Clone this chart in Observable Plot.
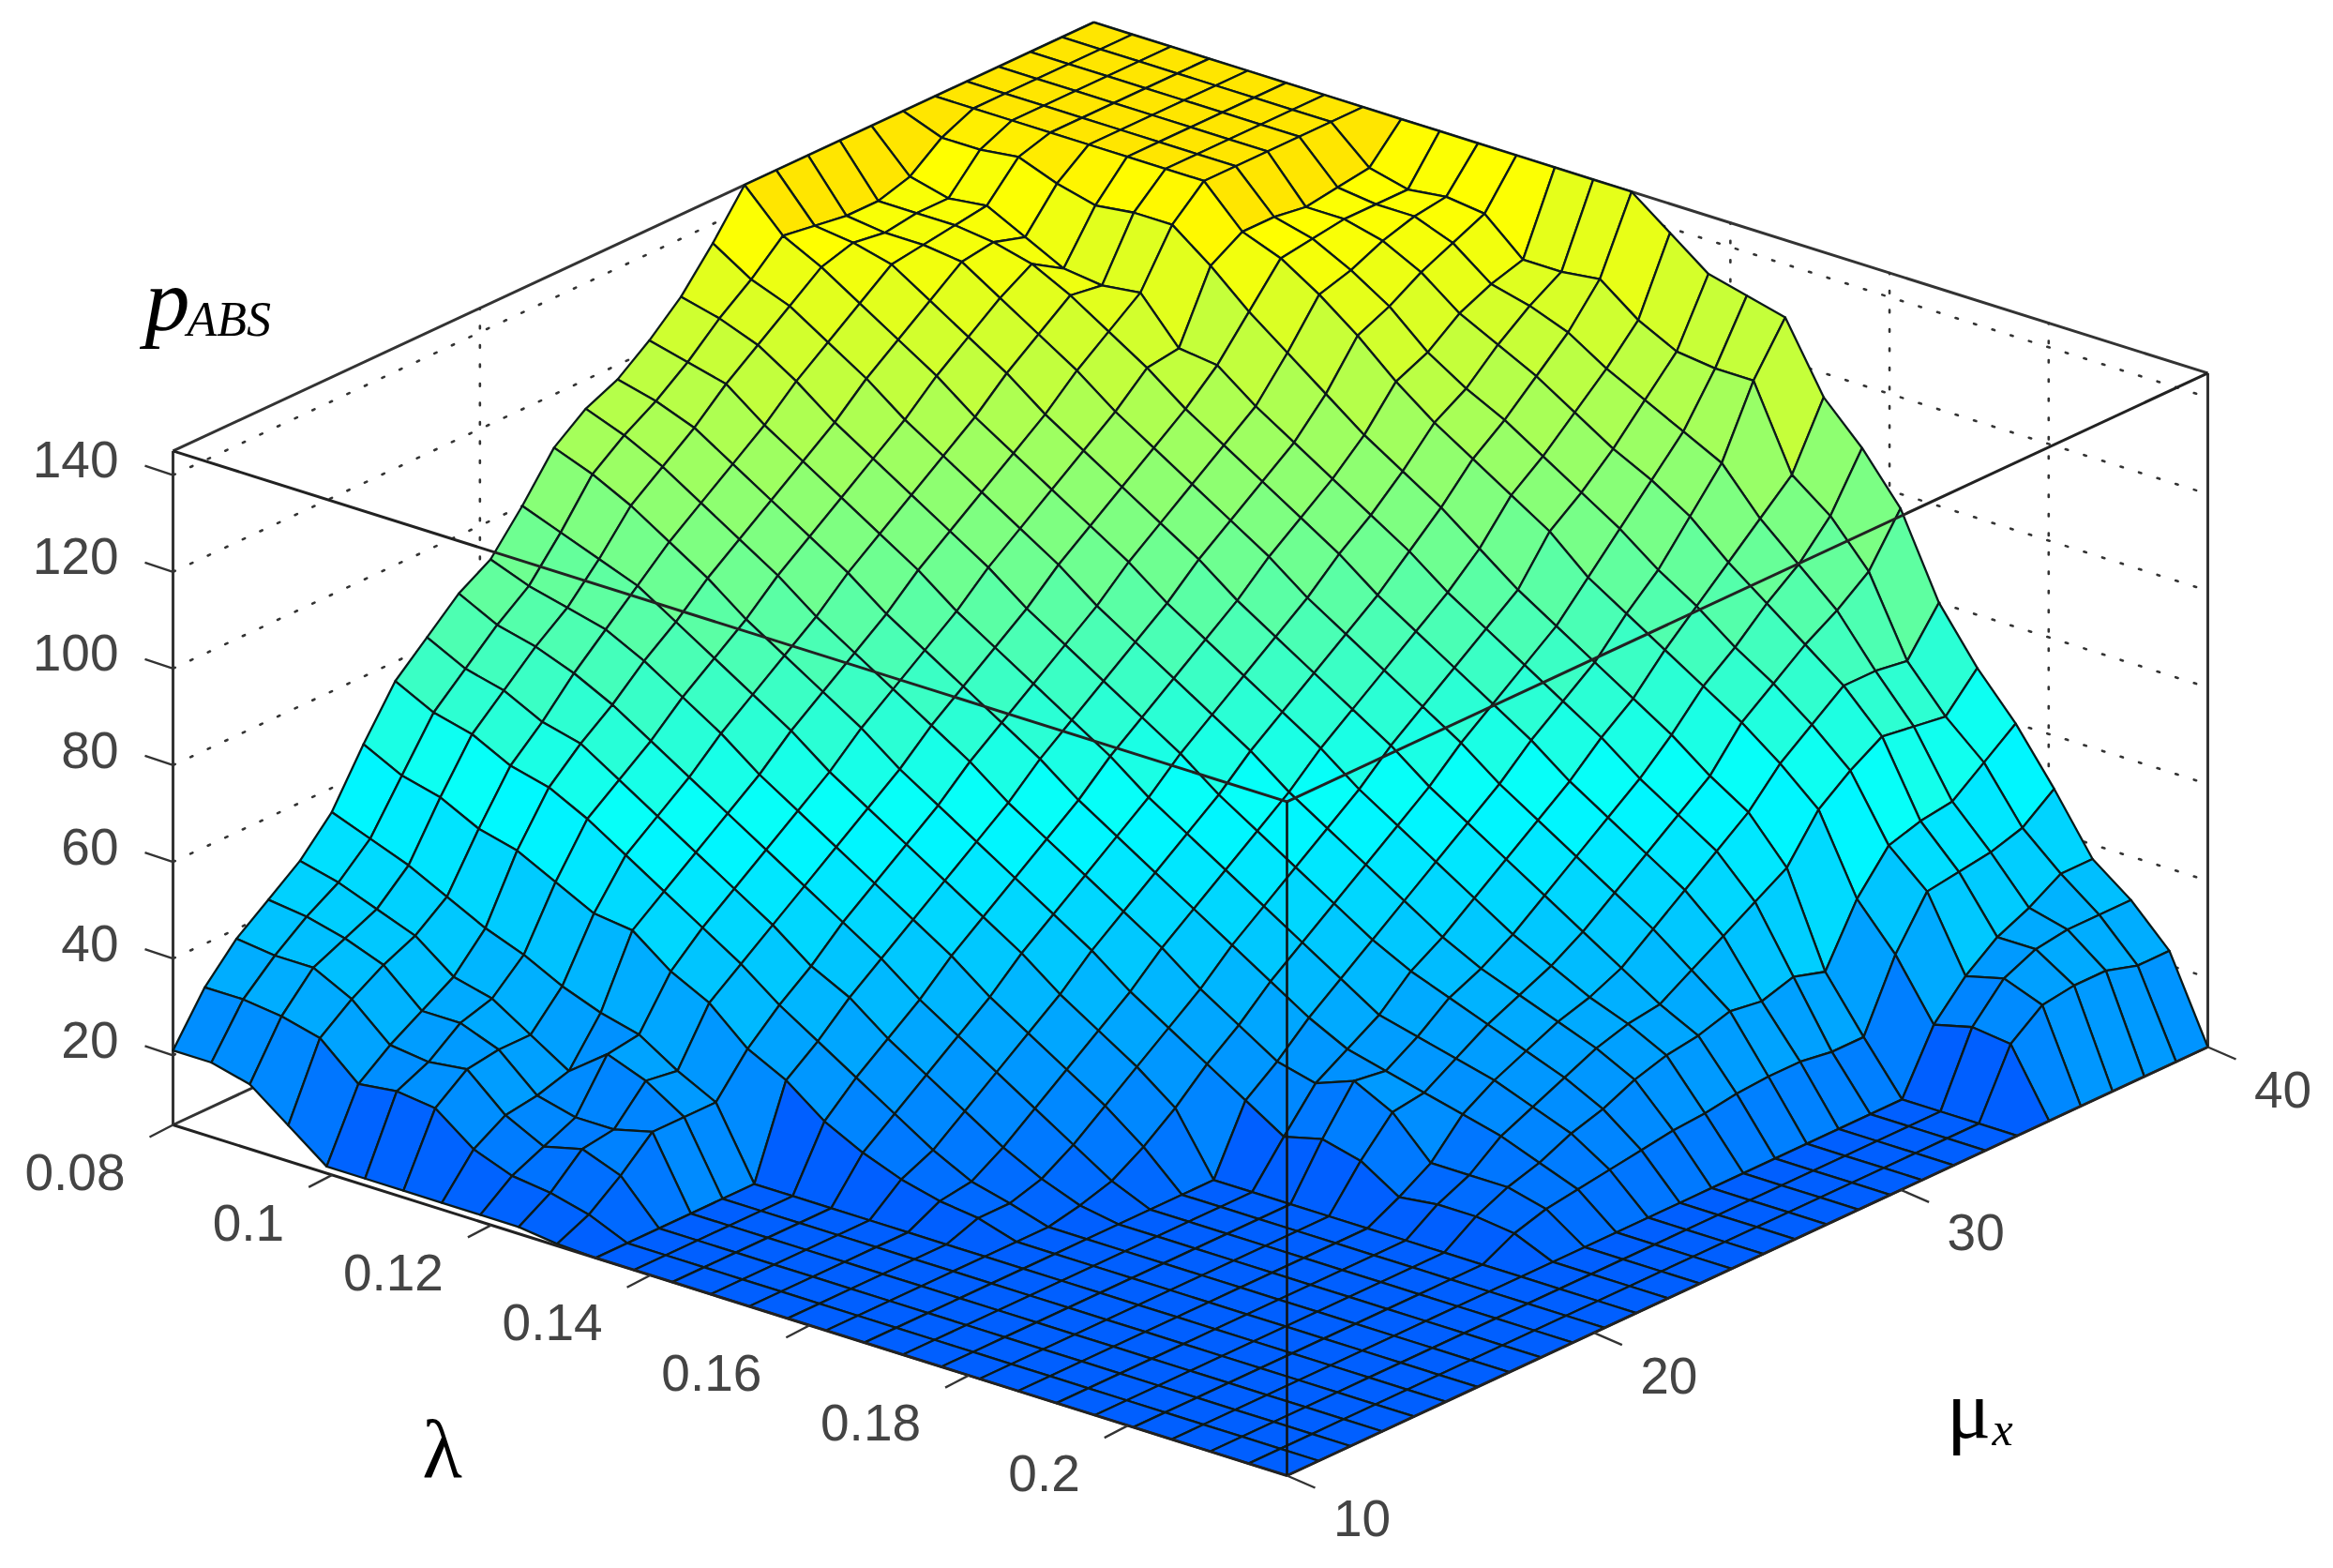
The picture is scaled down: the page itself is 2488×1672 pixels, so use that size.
<!DOCTYPE html>
<html><head><meta charset="utf-8">
<style>html,body{margin:0;padding:0;background:#fff}svg{display:block}</style>
<script src="https://cdn.jsdelivr.net/npm/d3@7"></script>
<script src="https://cdn.jsdelivr.net/npm/@observablehq/plot@0.6"></script>
</head><body><div id="chart"></div>
<script>
const f = 5.6;
const T = 145;
const zTicks = [20,40,60,80,100,120,140];
const lambdaTicks = [0.08,0.1,0.12,0.14,0.16,0.18,0.2];
const muTicks = [10,20,30,40];
const row0 = [21,21,19,13,7,7,7,7,7,7,6,f,f,f,f,f,f,f,f,f,f,f,f,f,f,f,f,f,f,f];
const row1 = [31,31,30,28,21,22,21,15,12,11,9,f,f,f,f,f,f,f,f,f,f,f,f,f,f,f,f,f,f,f];
const row2 = [38,37,37,33,26,25,26,19,15,17,14,f,f,f,f,f,f,f,f,f,f,f,f,f,f,f,f,f,f,f];
const row3 = [43,42,40,37,30,30,27,20,18,18,20,f,f,f,f,f,f,f,f,f,f,f,f,f,f,f,f,f,f,f];
const row4 = [48,46,43,40,34,32,27,22,28,25,20,f,f,f,f,f,f,f,f,f,f,f,f,f,f,f,f,f,f,f];
const row5 = [55,52,49,45,41,38,34,31,29,24,20,f,f,f,f,f,f,f,f,f,f,f,f,f,f,f,f,f,f,f];
const row6 = [66,62,60,56,54,50,46,45,39,35,28,24,18,14,11,9,8,f,f,f,f,f,f,f,f,f,f,f,f,f];
const row7 = [76,72,70,66,64,60,55,50,45,40,34,29,24,19,14,10,8,f,f,f,f,f,f,f,f,f,f,f,f,f];
const row8 = [82,78,76,72,70,65,60,55,50,45,39,35,29,24,19,14,10,7,f,f,f,f,f,f,f,f,f,f,f,f];
const row9 = [88,84,82,79,75,70,65,60,55,50,45,40,34,29,24,19,14,9,f,f,f,f,f,f,f,f,f,f,f,f];
const row10 = [92,89,87,85,81,76,71,65,60,55,50,45,40,34,29,24,19,13,f,f,f,f,f,f,f,f,f,f,f,f];
const row11 = [100,97,94,91,86,81,76,71,65,60,55,50,45,40,34,29,24,18,f,f,f,f,f,f,f,f,f,f,f,f];
const row12 = [109,106,102,97,92,86,81,76,71,65,60,55,50,45,40,34,29,24,19,14,16,14,9,10,10,9,f,f,f,f];
const row13 = [114,111,107,102,97,92,86,81,76,71,66,60,55,50,45,40,34,29,24,22,25,21,13,13,13,11,f,f,f,f];
const row14 = [117,115,112,107,102,97,92,86,81,76,71,66,60,55,50,45,40,35,30,26,24,22,20,18,15,12,f,f,f,f];
const row15 = [122,120,118,112,107,102,97,92,86,81,76,71,66,60,55,50,45,40,35,30,28,26,24,21,18,13,f,f,f,f];
const row16 = [128,126,123,118,112,107,102,97,92,86,81,76,71,66,60,55,50,45,40,36,33,30,27,24,20,14,f,f,f,f];
const row17 = [136,131,128,123,118,112,107,102,97,92,86,81,76,71,66,60,55,50,45,40,36,33,30,27,23,15,f,f,f,f];
const row18 = [T,137,133,128,123,118,112,107,102,97,92,86,81,76,71,66,60,55,50,45,40,36,32,29,25,15.5,f,f,f,f];
const row19 = [T,136,135,133,128,123,118,112,107,102,97,92,86,81,76,71,66,60,55,50,45,40,35,30,26,16.5,f,f,f,f];
const row20 = [T,135,134,134,133,128,123,118,112,107,102,97,92,86,81,76,71,66,60,55,50,45,40,34,28,17,f,f,f,f];
const row21 = [T,135,135,135,134,132,128,123,118,112,107,102,97,92,86,81,76,71,66,60,55,50,45,38,27,17,f,f,f,f];
const row22 = [T,137,135,136,132,128,127,128,119,118,112,107,102,97,92,86,81,76,71,66,60,55,50,42,29,16,f,f,f,f];
const row23 = [T,142,142,143,140,138,139,139,133,126,120,114,108,103,98,92,86,81,76,71,66,60,55,46,27,16,f,f,f,f];
const row24 = [T,T,T,T,T,T,T,T,137,134,129,123,116,110,105,100,95,88,83,78,73,68,62,55,39,30,18,20,19,f];
const row25 = [T,T,T,T,T,T,T,T,137,135,131,126,119,114,110,105,100,95,89,84,78,73,67,60,47,40,25,27,24,f];
const row26 = [T,T,T,T,T,T,T,T,136,136,134,130,124,120,116,111,106,102,97,90,84,78,72,64,49,41,30,30,25,f];
const row27 = [T,T,T,T,T,T,T,T,137,136,136,133,127,125,122,117,113,109,105,96,89,82,72,63,50,42,33,31,25,f];
const row28 = [T,T,T,T,T,T,T,T,138,136,137,136,129,129,130,124,120,119,119,102,96,87,71,62,55,44,37,31,23,f];
const row29 = [T,T,T,T,T,T,T,T,T,T,T,T,T,T,T,139,133,131,129,115,107,97,80,69,60,49,37,31,23,f];
const surfaceRows = [row0,row1,row2,row3,row4,row5,row6,row7,row8,row9,row10,row11,row12,row13,row14,row15,row16,row17,row18,row19,row20,row21,row22,row23,row24,row25,row26,row27,row28,row29];

const W = 2488, H = 1672;
const lam0 = 0.08, lam1 = 0.22, mu0 = 10, mu1 = 40, zBase = 5.6, zTop = 145;
const N = surfaceRows.length - 1;
const px = (lam, mu) => 1372 - 1188*(lam1-lam)/(lam1-lam0) + 982*(mu-mu0)/(mu1-mu0);
const py = (lam, mu, z) => 1573 - 374*(lam1-lam)/(lam1-lam0) - 457*(mu-mu0)/(mu1-mu0) - (z-zBase)*5.155;
const lamAt = i => lam0 + (lam1-lam0)*i/N;
const muAt = j => mu0 + (mu1-mu0)*j/N;

const cells = [];
for (let i = 0; i < N; i++) for (let j = N-1; j >= 0; j--) {
  const id = i*100+j, v = surfaceRows[j][i];
  for (const [a,b] of [[i,j],[i+1,j],[i+1,j+1],[i,j+1],[i,j]])
    cells.push({id, v, x:px(lamAt(a),muAt(b)), y:py(lamAt(a),muAt(b),surfaceRows[b][a])});
}
const edge = (a,b) => ({x1:px(a[0],a[1]),y1:py(a[0],a[1],a[2]),x2:px(b[0],b[1]),y2:py(b[0],b[1],b[2])});
const L=[lam0,mu0], Fr=[lam1,mu0], R=[lam1,mu1], B=[lam0,mu1];
const at=(c,z)=>[c[0],c[1],z];
const backEdges=[edge(at(L,zTop),at(B,zTop)),edge(at(B,zTop),at(R,zTop)),edge(at(L,zBase),at(B,zBase)),edge(at(B,zBase),at(R,zBase)),
  edge(at(L,zBase),at(L,zTop)),edge(at(R,zBase),at(R,zTop))];
const frontEdges=[edge(at(L,zTop),at(Fr,zTop)),edge(at(Fr,zTop),at(R,zTop)),edge(at(Fr,zBase),at(L,zBase)),edge(at(Fr,zBase),at(R,zBase))];
const frontPost=[edge(at(Fr,zBase),at(Fr,zTop))];
const gridLines=[];
for(const z of zTicks){gridLines.push(edge([lam0,mu0,z],[lam0,mu1,z]),edge([lam0,mu1,z],[lam1,mu1,z]));}
for(const m of [20,30]) gridLines.push(edge([lam0,m,zBase],[lam0,m,zTop]));
for(const l of lambdaTicks.slice(1)) gridLines.push(edge([l,mu1,zBase],[l,mu1,zTop]));

const zT = zTicks.map(z=>({z,x:px(lam0,mu0),y:py(lam0,mu0,z)}));
const lT = lambdaTicks.map(l=>({l,x:px(l,mu0),y:py(l,mu0,zBase)}));
const mT = muTicks.map(m=>({m,x:px(lam1,m),y:py(lam1,m,zBase)}));
const tickFont={fontFamily:"Liberation Sans",fontSize:55,fill:"#444",stroke:"none"};
const topLeft=[{x:px(lam0,mu0),y:py(lam0,mu0,zTop)}];
const lFoot=[{x:px(lam0,mu0),y:py(lam0,mu0,zBase)}];
const rFoot=[{x:px(lam1,mu1),y:py(lam1,mu1,zBase)}];

const chart = Plot.plot({
  width:W,height:H,margin:0,
  x:{domain:[0,W],range:[0,W],axis:null},
  y:{domain:[0,H],range:[0,H],axis:null},
  color:{type:"linear",domain:[5.6,58,137,145],range:["#005fff","#00ffff","#ffff00","#ffe600"]},
  style:{background:"#fff"},
  marks:[
    Plot.link(gridLines,{x1:"x1",y1:"y1",x2:"x2",y2:"y2",stroke:"#333",strokeWidth:2.6,strokeDasharray:"2.5,18",strokeLinecap:"round"}),
    Plot.link(backEdges,{x1:"x1",y1:"y1",x2:"x2",y2:"y2",stroke:"#333",strokeWidth:3}),
    Plot.line(cells,{x:"x",y:"y",z:"id",fill:"v",stroke:"#0c1a1a",strokeWidth:2.3,strokeLinejoin:"round"}),
    Plot.link(frontEdges,{x1:"x1",y1:"y1",x2:"x2",y2:"y2",stroke:"#222",strokeWidth:3}),
    Plot.link(frontPost,{x1:"x1",y1:"y1",x2:"x2",y2:"y2",stroke:"#111",strokeWidth:2.6}),
    Plot.link(zT,{x1:d=>d.x-30,y1:d=>d.y-10,x2:"x",y2:"y",stroke:"#333",strokeWidth:2.4}),
    Plot.link(lT,{x1:d=>d.x-25,y1:d=>d.y+13,x2:"x",y2:"y",stroke:"#333",strokeWidth:2.4}),
    Plot.link(mT,{x1:d=>d.x+30,y1:d=>d.y+13,x2:"x",y2:"y",stroke:"#333",strokeWidth:2.4}),
    Plot.text(zT,{x:"x",y:"y",text:d=>String(d.z),textAnchor:"end",dx:-58,dy:-15,...tickFont}),
    Plot.text(lT,{x:"x",y:"y",text:d=>String(d.l),textAnchor:"end",dx:-51,dy:52,...tickFont}),
    Plot.text(mT,{x:"x",y:"y",text:d=>String(d.m),textAnchor:"middle",dx:80,dy:47,...tickFont}),
    Plot.text(topLeft,{x:"x",y:"y",text:()=>"p",textAnchor:"start",dx:-30,dy:-160,fontFamily:"Liberation Serif",fontStyle:"italic",fontSize:96,fill:"#000"}),
    Plot.text(topLeft,{x:"x",y:"y",text:()=>"ABS",textAnchor:"start",dx:15,dy:-140,fontFamily:"Liberation Serif",fontStyle:"italic",fontSize:52,fill:"#000"}),
    Plot.text(lFoot,{x:"x",y:"y",text:()=>"λ",textAnchor:"middle",dx:287,dy:348,fontFamily:"Liberation Serif",fontSize:88,fill:"#000"}),
    Plot.text(rFoot,{x:"x",y:"y",text:()=>"μ",textAnchor:"middle",dx:-255,dy:388,fontFamily:"Liberation Serif",fontSize:88,fill:"#000"}),
    Plot.text(rFoot,{x:"x",y:"y",text:()=>"x",textAnchor:"middle",dx:-219,dy:408,fontFamily:"Liberation Serif",fontStyle:"italic",fontSize:50,fill:"#000"})
  ]
});
document.getElementById("chart").append(chart);
</script></body></html>
